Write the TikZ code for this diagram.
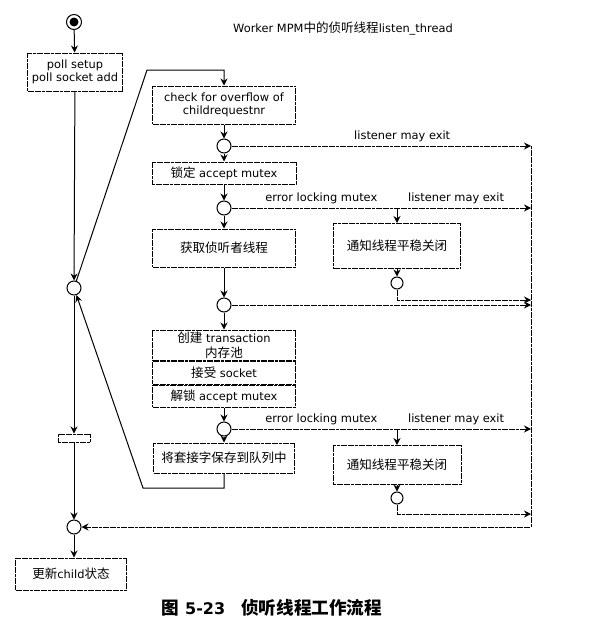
\documentclass[tikz,border=0pt]{standalone}
\usepackage{fontspec}
\setmainfont{DejaVu Sans}
\newfontfamily\zhfont{Noto Sans CJK SC}[Scale=1.1]
\newcommand{\zh}[1]{{\zhfont #1}}
\usetikzlibrary{arrows.meta,positioning}

\begin{document}
\begin{tikzpicture}[x=1pt,y=-1pt,
  font=\fontsize{11.4}{13}\selectfont,
  >={Stealth[length=7pt,width=7pt]},
  box/.style={draw,dash pattern=on 3pt off 0.6pt,line width=1pt,align=center,inner sep=0pt,fill=white},
  junction/.style={circle,draw,line width=1pt,fill=white,minimum size=14pt,inner sep=0pt},
  smalljunction/.style={junction,minimum size=12pt},
  flow/.style={->,line width=1pt},
  exitline/.style={->,line width=1pt,dash pattern=on 3pt off 0.6pt}]
  \useasboundingbox (0,0) rectangle (589,629);

  \node (title) at (343,29) {Worker MPM\zh{中的侦听线程}listen\_thread};
  \node[circle,draw,line width=1pt,minimum size=15pt,inner sep=0pt] (start) at (74,22) {};
  \fill (start) circle (4.5pt);
  \node[box,minimum width=95pt,minimum height=38pt] (poll) at (75,72) {poll setup\\poll socket add};
  \node[junction] (jl) at (74,288) {};
  \node[box,minimum width=32pt,minimum height=8pt] (bar) at (74,438) {};
  \node[junction] (jb) at (74,527) {};
  \node[box,minimum width=111pt,minimum height=32pt] (update) at (71,574) {\zh{更新}child\zh{状态}};

  \node[box,minimum width=143pt,minimum height=38pt] (check) at (224,105) {check for overflow of\\childrequestnr};
  \node[junction] (j1) at (224,146) {};
  \node[box,minimum width=144pt,minimum height=22pt] (lock) at (224,173) {\zh{锁定} accept mutex};
  \node[junction] (j2) at (224,208) {};
  \node[box,minimum width=143pt,minimum height=38pt] (acquire) at (224,248) {\zh{获取侦听者线程}};
  \node[junction] (j3) at (224,305) {};
  \node[box,minimum width=143pt,minimum height=30pt] (create) at (224,345) {\zh{创建} transaction\\[2pt]\zh{内存池}};
  \node[box,minimum width=143pt,minimum height=23pt,below=0pt of create] (accept) {\zh{接受} socket};
  \node[box,minimum width=143pt,minimum height=22pt,below=0pt of accept] (unlock) {\zh{解锁} accept mutex};
  \node[junction] (j4) at (224,429) {};
  \node[box,minimum width=141pt,minimum height=30pt] (enqueue) at (224,458) {\zh{将套接字保存到队列中}};

  \node[box,minimum width=127pt,minimum height=45pt] (notify1) at (397,246) {\zh{通知线程平稳关闭}};
  \node[smalljunction] (s1) at (397,283) {};
  \node[box,minimum width=128pt,minimum height=39pt] (notify2) at (397,465) {\zh{通知线程平稳关闭}};
  \node[smalljunction] (s2) at (397,498) {};

  \node[font=\fontsize{16}{18}\selectfont\bfseries] (caption) at (272,608) {\zh{图} 5-23\quad\zh{侦听线程工作流程}};

  \coordinate (rx) at (531,0);
  \coordinate (out1) at (531,300);
  \coordinate (out2) at (531,514);
  \coordinate (rb) at (531,527);
  \coordinate (looptop) at (147,70);
  \coordinate (loopbot) at (143,488);

  \draw[flow] (start) -- (poll);
  \draw[flow] (poll) -- (jl);
  \draw[flow] (jl) -- (looptop) -| (check);
  \draw[flow] (check) -- (j1);
  \draw[flow] (j1) -- (lock);
  \draw[exitline] (j1) -- (j1 -| rx) node[pos=0.57,above] {listener may exit};
  \draw[flow] (lock) -- (j2);
  \draw[flow] (j2) -- (acquire);
  \draw[exitline] (j2) -- (j2 -| rx) node[pos=0.3,above] {error locking mutex} node[pos=0.75,above] {listener may exit};
  \draw[flow] (notify1.north |- j2) -- (notify1);
  \draw[flow] (notify1) -- (s1);
  \draw[exitline] (s1) |- (out1);
  \draw[flow] (acquire) -- (j3);
  \draw[exitline] (j3) -- (j3 -| rx);
  \draw[flow] (j3) -- (create);
  \draw[flow] (unlock) -- (j4);
  \draw[flow] (j4) -- (enqueue);
  \draw[exitline] (j4) -- (j4 -| rx) node[pos=0.3,above] {error locking mutex} node[pos=0.75,above] {listener may exit};
  \draw[flow] (notify2.north |- j4) -- (notify2);
  \draw[flow] (notify2) -- (s2);
  \draw[exitline] (s2) |- (out2);
  \draw[exitline] (j1 -| rx) -- (rb) -- (jb);
  \draw[flow] (enqueue) |- (loopbot) -- (jl);
  \draw[flow] (jl) -- (bar);
  \draw[flow] (bar) -- (jb);
  \draw[flow] (jb) -- (jb |- update.north);
\end{tikzpicture}
\end{document}
